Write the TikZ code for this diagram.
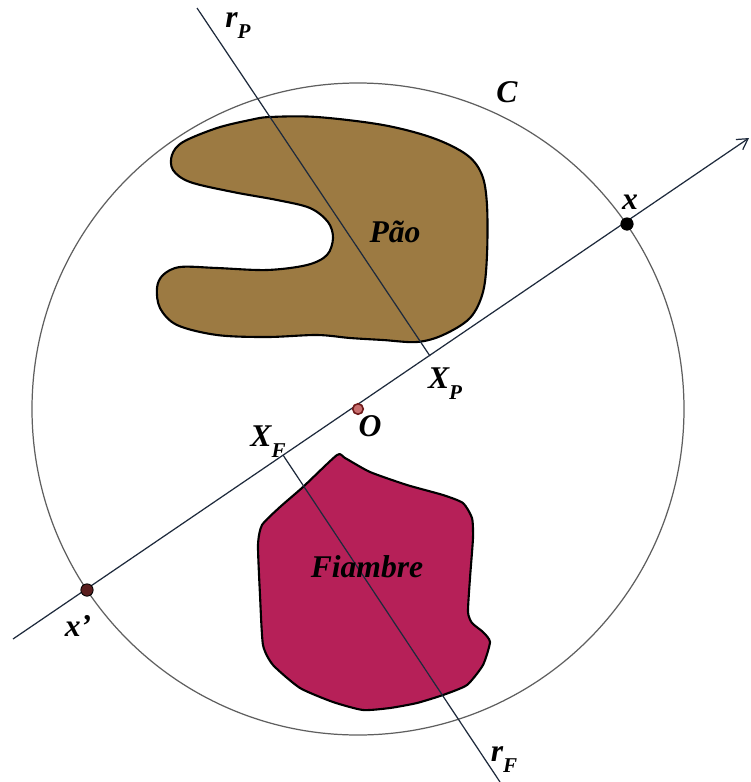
\documentclass[tikz,border=0pt]{standalone}
\usepackage{fontspec}
\setmainfont{Liberation Serif}
\usetikzlibrary{arrows.meta}
\definecolor{paobrown}{RGB}{156,122,66}
\definecolor{fiamb}{RGB}{182,32,88}
\definecolor{linecol}{RGB}{30,42,60}
\definecolor{circcol}{RGB}{95,95,95}
\definecolor{ocol}{RGB}{150,50,50}
\newcommand{\sublab}[2]{#1\raisebox{-0.35em}{\fontsize{12}{12}\selectfont #2}}
\tikzset{
  lab/.style={font=\fontsize{18}{18}\selectfont\bfseries\itshape, inner sep=0pt},
  blob/.style={draw=black, line width=1.2pt, line join=round},
  geoline/.style={draw=linecol, line width=0.7pt},
  dotpt/.style={circle, inner sep=0pt, minimum size=7pt, draw=black, line width=0.5pt}
}
\begin{document}
\begin{tikzpicture}[x=0.02cm,y=-0.02cm]
\useasboundingbox (0,0) rectangle (751,782);
% shapes
\draw[blob, fill=paobrown] plot[smooth cycle, tension=0.55] coordinates {
 (270,117) (317,117) (383,125) (433,138) (467,155) (482,175) (487,205) (487,255)
 (483,292) (470,318) (443,335) (417,342) (383,340) (350,338) (317,335) (267,337)
 (217,335) (177,325) (160,308) (157,288) (163,275) (180,267) (217,268) (267,270)
 (307,265) (327,255) (333,238) (328,222) (310,208) (277,200) (233,192) (190,182)
 (173,170) (172,155) (183,142) (217,128) (250,120)};
\draw[blob, fill=fiamb] plot[smooth cycle, tension=0.35] coordinates {
 (337,455) (303,487) (280,507) (262,525) (258,545) (260,595) (263,645) (273,665)
 (300,688) (333,702) (363,710) (390,708) (417,703) (443,695) (467,685) (483,665)
 (490,642) (483,632) (472,623) (468,612) (470,578) (473,538) (472,518) (463,503)
 (443,495) (407,485) (370,472) (345,458)};
% circle
\coordinate (Oc) at (358,409);
\draw[circcol, line width=0.7pt] (Oc) circle[radius=326];
% main line and perpendiculars
\coordinate (L0) at (13,639);
\coordinate (L1) at (749,138);
\coordinate (XP) at (430,356);
\coordinate (XF) at (283,455);
\coordinate (RP) at (197,8);
\coordinate (RF) at (500,782);
\draw[geoline, -{Straight Barb[length=6pt,width=7pt]}] (L0) -- (L1);
\draw[geoline] (XP) -- (RP);
\draw[geoline] (XF) -- (RF);
% points
\node[dotpt, fill=black] (px) at (627,224) {};
\node[dotpt, fill={rgb,255:red,90;green,30;blue,30}] (pxp) at (87,590) {};
\node[dotpt, minimum size=6pt, fill={rgb,255:red,200;green,110;blue,110}, draw={rgb,255:red,110;green,25;blue,25}, line width=0.9pt] (pO) at (358,409) {};
% labels
\node[lab] (lrp) at (238,26) {\sublab{r}{P}};
\node[lab] (lC) at (507,92) {C};
\node[lab] (lpao) at (395,232) {Pão};
\node[lab] (lx) at (630,202) {x};
\node[lab] (lXP) at (445,384) {\sublab{X}{P}};
\node[lab] (lO) at (370,426) {O};
\node[lab] (lXF) at (268,442) {\sublab{X}{F}};
\node[lab] (lfi) at (367,567) {Fiambre};
\node[lab] (lxp) at (78,626) {x’};
\node[lab] (lrf) at (504,760) {\sublab{r}{F}};
\end{tikzpicture}
\end{document}
